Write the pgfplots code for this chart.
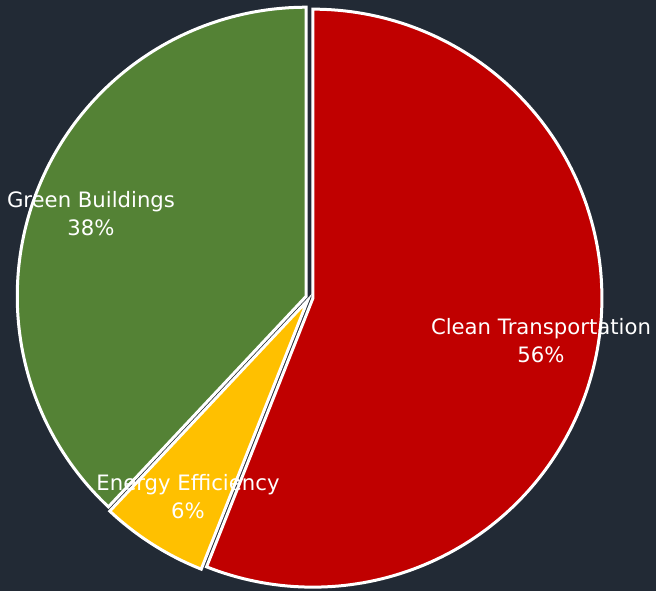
\documentclass[border=0pt]{standalone}
\usepackage{pgfplots}
\pgfplotsset{compat=1.18}
\usepackage{fontspec}
\setmainfont{DejaVu Sans}
\definecolor{bg}{HTML}{222A35}
\definecolor{cred}{HTML}{C00000}
\definecolor{cyel}{HTML}{FFC000}
\definecolor{cgrn}{HTML}{548235}
% data (percent)
\def\pA{56}% Clean Transportation
\def\pB{6}% Energy Efficiency
\def\pC{38}% Green Buildings
\def\cx{309.5}\def\cy{293.5}\def\R{289}\def\ex{3.5}
\pgfmathsetmacro{\sA}{90}
\pgfmathsetmacro{\eA}{90-3.6*\pA}
\pgfmathsetmacro{\eB}{\eA-3.6*\pB}
\pgfmathsetmacro{\eC}{\eB-3.6*\pC}
\pgfmathsetmacro{\mA}{(\sA+\eA)/2}
\pgfmathsetmacro{\mB}{(\eA+\eB)/2}
\pgfmathsetmacro{\mC}{(\eB+\eC)/2}
\pgfmathsetmacro{\xA}{\cx+\ex*cos(\mA)}\pgfmathsetmacro{\yA}{\cy+\ex*sin(\mA)}
\pgfmathsetmacro{\xB}{\cx+\ex*cos(\mB)}\pgfmathsetmacro{\yB}{\cy+\ex*sin(\mB)}
\pgfmathsetmacro{\xC}{\cx+\ex*cos(\mC)}\pgfmathsetmacro{\yC}{\cy+\ex*sin(\mC)}
\begin{document}
\begin{tikzpicture}
\fill[bg] (0,0) rectangle (656pt,591pt);
\begin{axis}[at={(0,0)}, anchor=south west, width=656pt, height=591pt,
  scale only axis, xmin=0, xmax=656, ymin=0, ymax=591, hide axis, clip=false]
\addplot[fill=cred, draw=white, line width=3pt, domain=\eA:\sA, samples=160, variable=\t]
  ({\xA+\R*cos(t)}, {\yA+\R*sin(t)}) -- (axis cs:\xA,\yA) -- cycle;
\addplot[fill=cyel, draw=white, line width=3pt, domain=\eB:\eA, samples=30, variable=\t]
  ({\xB+\R*cos(t)}, {\yB+\R*sin(t)}) -- (axis cs:\xB,\yB) -- cycle;
\addplot[fill=cgrn, draw=white, line width=3pt, domain=\eC:\eB, samples=120, variable=\t]
  ({\xC+\R*cos(t)}, {\yC+\R*sin(t)}) -- (axis cs:\xC,\yC) -- cycle;
\node[text=white, align=center, font=\fontsize{21.2}{28}\selectfont] at (axis cs:91,377) {Green Buildings\\38\%};
\node[text=white, align=center, font=\fontsize{21.2}{28}\selectfont] at (axis cs:541,250) {Clean Transportation\\56\%};
\node[text=white, align=center, font=\fontsize{21.2}{28}\selectfont] at (axis cs:188,94) {Energy Efficiency\\6\%};
\end{axis}
\end{tikzpicture}
\end{document}
